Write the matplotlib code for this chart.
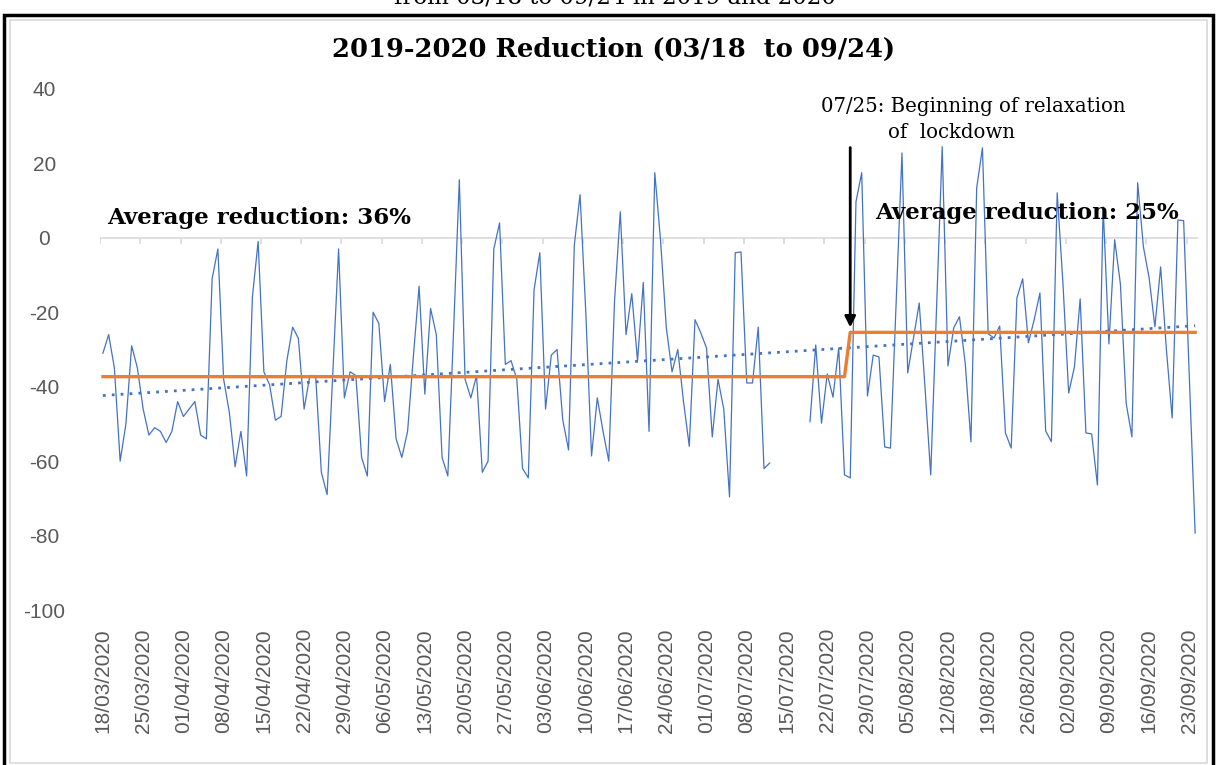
import numpy as np
import pandas as pd
import matplotlib
matplotlib.use("Agg")
import matplotlib.pyplot as plt
from matplotlib.patches import Rectangle

plt.rcParams['axes.unicode_minus'] = False

# daily values, 18/03/2020 .. 24/09/2020 (blank days = nan)
dates = pd.date_range('2020-03-18', '2020-09-24')
reduction = [
    -31, -26, -35, -60, -50, -29, -35, -46, -53, -51, -52, -55, -52, -44, -48, -46, -44, -53, -54, -11,
    -3, -38, -47, -61.5, -52, -64, -16, -1, -36, -39.5, -49, -48, -33, -24, -27, -46, -37, -37, -63, -69,
    -36, -3, -43, -36, -37, -59, -64, -20, -23, -44, -34, -54, -59, -52, -32, -13, -42, -19, -26, -59,
    -64, -25, 15.6, -38, -43, -37, -63, -60, -3, 4, -34, -33, -38, -62, -64.5, -14, -4, -46, -31.5, -30,
    -49, -57, -2, 11.6, -20, -58.6, -43, -52, -60, -17, 7, -26, -15, -33, -12, -52, 17.5, -0.5, -24, -36,
    -30, -44, -56, -22, -25.5, -29.6, -53.5, -38, -46, -69.6, -4, -3.8, -39, -39, -24, -62, -60.5,
    np.nan, np.nan, np.nan, np.nan, np.nan, np.nan,
    -49.4, -28.8, -49.8, -36.6, -42.8, -29.6, -63.7, -64.5, 9.7, 17.5, -42.5, -31.5, -32, -56.2, -56.5,
    -17, 22.8, -36.3, -27, -17.5, -40, -63.7, -20, 24.5, -34.4, -24.2, -21.2, -33.6, -54.8, 13.4, 24.2,
    -25.8, -26.9, -23.7, -52.4, -56.5, -16.1, -11, -28.2, -22, -14.8, -51.9, -54.8, 12.1, -12.1, -41.7,
    -34.7, -16.4, -52.4, -52.7, -66.4, 8.3, -28.5, -0.5, -12.4, -44.4, -53.5, 14.8, -2.4, -10.8, -23.9,
    -7.8, -30, -48.4, 4.8, 4.6, -38, -79.3,
]
avg_before = -37.3
avg_after = -25.4
relax_day = '2020-07-26'
yticks = [40, 20, 0, -20, -40, -60, -80, -100]

reduction = np.array(reduction, dtype=float)
x = np.arange(len(dates))
split = int(np.where(dates == pd.Timestamp(relax_day))[0][0])
average = np.where(x < split, avg_before, avg_after)

ok = ~np.isnan(reduction)
slope, icpt = np.polyfit(x[ok], reduction[ok], 1)
trend = slope * x + icpt

fig = plt.figure(figsize=(12.17, 7.65), dpi=100)
ax = fig.add_axes([0.0822, 0.2026, 0.9022, 0.6811])

blue = '#4472C4'
ax.plot(x, reduction, color=blue, lw=0.9, zorder=3)
ax.plot(x, average, color='#ED7D31', lw=2.4, zorder=4)
ax.plot(x, trend, color=blue, lw=2.0, ls=(0, (1, 2.2)), zorder=3)

ax.set_xlim(-0.5, len(dates) - 0.5)
ax.set_ylim(-100, 40)
ax.set_yticks(yticks)
ax.set_yticklabels([str(v) for v in yticks])
for s in ax.spines.values():
    s.set_visible(False)

# horizontal axis line at zero with week tick marks
ax.axhline(0, color='#D9D9D9', lw=1.2, zorder=1)
wk = np.arange(0, len(dates), 7)
ax.vlines(wk - 0.5, -1.6, 0, color='#D9D9D9', lw=1.2, zorder=1)

ax.set_xticks(wk)
ax.set_xticklabels([d.strftime('%d/%m/%Y') for d in dates[wk]], rotation=90,
                   fontsize=15, color='#595959', family='Liberation Sans')
ax.tick_params(axis='x', length=0, pad=13)
ax.tick_params(axis='y', length=0, pad=40, labelsize=15, labelcolor='#595959')
for t in ax.get_yticklabels():
    t.set_ha('center')
    t.set_family('Liberation Sans')

ax.text(0.7, 5.4, 'Average reduction: 36%', fontsize=16.5, fontweight='bold',
        family='DejaVu Serif', va='center', ha='left')
ax.text(134.4, 6.7, 'Average reduction: 25%', fontsize=16.5, fontweight='bold',
        family='DejaVu Serif', va='center', ha='left')
ax.text(125, 35.2, '07/25: Beginning of relaxation', fontsize=14.2,
        family='DejaVu Serif', va='center', ha='left')
ax.text(136.5, 28.2, 'of  lockdown', fontsize=14.2,
        family='DejaVu Serif', va='center', ha='left')
ax.annotate('', xy=(split, avg_after + 0.6), xytext=(split, 25),
            arrowprops=dict(arrowstyle='-|>', color='black', lw=2, mutation_scale=16))

fig.text(0.504, 0.935, '2019-2020 Reduction (03/18  to 09/24)', fontsize=18.5,
         fontweight='bold', family='DejaVu Serif', ha='center', va='center')
fig.text(0.505, 1 - 4 / 765, 'from 03/18 to 09/24 in 2019 and 2020', fontsize=16.5,
         family='DejaVu Serif', ha='center', va='baseline')

W, H = 1217, 765
fig.patches.append(Rectangle((4 / W, -0.05), 1209 / W, 1.05 - 15 / H, transform=fig.transFigure,
                             fill=False, ec='black', lw=2.5))
fig.patches.append(Rectangle((10 / W, 2 / H), 1197 / W, 1 - 22 / H, transform=fig.transFigure,
                             fill=False, ec='#D9D9D9', lw=1.2))

fig.savefig('out.png', dpi=100)
